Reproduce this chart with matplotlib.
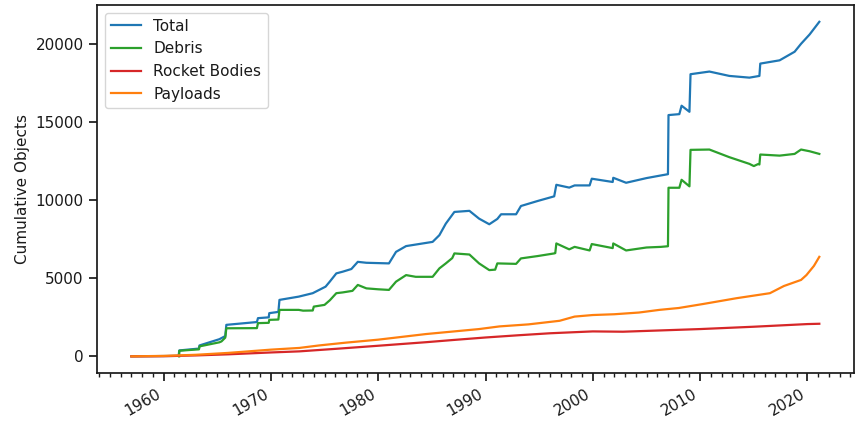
from datetime import datetime, timedelta

import matplotlib
matplotlib.use('Agg')
import matplotlib.pyplot as plt
import matplotlib.dates as mdates

# decimal years
total_years = [1957.0, 1961.4, 1961.47, 1963.3, 1963.35, 1965.2, 1965.75, 1965.85, 1968.7, 1968.8,
               1969.8, 1969.85, 1970.7, 1970.8, 1972.6, 1973.9, 1975.1, 1975.5, 1976.1, 1976.7,
               1977.5, 1978.1, 1978.9, 1981.0, 1981.66, 1982.6, 1985.07, 1985.7, 1986.3, 1987.1,
               1988.5, 1989.4, 1990.35, 1991.1, 1991.45, 1992.85, 1993.3, 1994.85, 1996.4, 1996.6,
               1997.8, 1998.3, 1999.7, 1999.9, 2001.85, 2001.9, 2003.1, 2005.0, 2006.35, 2007.0,
               2007.05, 2008.06, 2008.27, 2009.0, 2009.1, 2010.86, 2012.72, 2014.59, 2015.52, 2015.6,
               2017.4, 2018.8, 2019.4, 2020.2, 2021.1]
total_vals = [0, 30, 380, 500, 700, 1100, 1300, 2020, 2200, 2450,
              2500, 2770, 2850, 3620, 3830, 4050, 4470, 4800, 5320, 5430,
              5600, 6060, 6000, 5960, 6700, 7070, 7340, 7770, 8510, 9260,
              9330, 8830, 8470, 8810, 9110, 9110, 9640, 9960, 10260, 11000,
              10820, 10960, 10960, 11390, 11180, 11450, 11130, 11430, 11600, 11680,
              15470, 15530, 16070, 15680, 18090, 18260, 17980, 17870, 17980, 18770,
              18980, 19530, 20040, 20640, 21450]

debris_years = [1961.45, 1961.47, 1963.3, 1963.35, 1965.2, 1965.4, 1965.75, 1965.85, 1968.7, 1968.8,
                1969.8, 1969.85, 1970.7, 1970.8, 1972.6, 1973.0, 1973.9, 1974.0, 1975.0, 1975.5,
                1976.1, 1976.7, 1977.6, 1978.1, 1978.9, 1980.0, 1981.0, 1981.66, 1982.6, 1983.5,
                1985.07, 1985.7, 1986.3, 1986.9, 1987.1, 1988.5, 1989.4, 1990.35, 1990.9, 1991.1,
                1992.85, 1993.3, 1994.85, 1996.4, 1996.5, 1996.6, 1997.8, 1998.3, 1999.7, 1999.9,
                2001.85, 2001.9, 2003.1, 2005.0, 2006.35, 2007.0, 2007.05, 2008.06, 2008.27, 2009.0,
                2009.1, 2010.86, 2012.72, 2014.59, 2015.0, 2015.4, 2015.52, 2015.6, 2017.4, 2018.8,
                2019.4, 2020.2, 2021.1]
debris_vals = [0, 360, 450, 640, 900, 960, 1200, 1800, 1810, 2130,
               2150, 2340, 2360, 2980, 2980, 2930, 2940, 3190, 3300, 3600,
               4050, 4100, 4200, 4580, 4360, 4300, 4260, 4790, 5210, 5100,
               5100, 5640, 5960, 6300, 6600, 6530, 5960, 5530, 5560, 5960,
               5930, 6280, 6430, 6600, 6620, 7240, 6860, 7020, 6790, 7200,
               6940, 7240, 6790, 6980, 7020, 7060, 10810, 10810, 11320, 10900,
               13240, 13260, 12770, 12340, 12200, 12330, 12300, 12940, 12870, 12980,
               13260, 13150, 12980]

rocket_years = [1957.0, 1960, 1963, 1966, 1970, 1972.65, 1976, 1980, 1984.5, 1987, 1990, 1993,
                1996, 1998.3, 2000, 2002.8, 2006.2, 2010, 2015, 2020, 2021.1]
rocket_vals = [0, 10, 60, 130, 250, 320, 480, 680, 910, 1050, 1210, 1350,
               1480, 1550, 1600, 1580, 1660, 1750, 1900, 2070, 2090]

payload_years = [1957.0, 1960, 1963, 1966, 1970, 1972.65, 1974.5, 1977, 1980, 1984.45, 1989.4, 1991.3,
                 1994, 1996.9, 1998.3, 2000, 2002, 2004.3, 2006.2, 2008, 2010.3, 2013.4, 2016.5,
                 2017.8, 2019.4, 2019.9, 2020.6, 2021.1]
payload_vals = [0, 30, 100, 220, 430, 540, 700, 880, 1070, 1430, 1750, 1920,
                2050, 2280, 2550, 2650, 2700, 2810, 2980, 3100, 3360, 3730, 4050,
                4510, 4900, 5210, 5800, 6380]


def to_dates(years):
    return [datetime(int(y), 1, 1) + timedelta(days=(y % 1) * 365.25) for y in years]


plt.rcParams.update({
    'font.size': 11,
    'axes.linewidth': 1.25,
    'xtick.major.size': 6,
    'ytick.major.size': 6,
    'xtick.minor.size': 3,
    'xtick.major.width': 1.25,
    'ytick.major.width': 1.25,
    'xtick.minor.width': 1,
    'text.color': '.1',
    'xtick.color': '.1',
    'ytick.color': '.1',
    'axes.labelcolor': '.1',
    'axes.edgecolor': '.1',
})

fig, ax = plt.subplots(figsize=(8.58, 4.23), dpi=100)
ax.plot(to_dates(total_years), total_vals, color='tab:blue', lw=1.6, label='Total')
ax.plot(to_dates(debris_years), debris_vals, color='tab:green', lw=1.6, label='Debris')
ax.plot(to_dates(rocket_years), rocket_vals, color='tab:red', lw=1.6, label='Rocket Bodies')
ax.plot(to_dates(payload_years), payload_vals, color='tab:orange', lw=1.6, label='Payloads')

ax.xaxis.set_major_locator(mdates.YearLocator(10))
ax.xaxis.set_minor_locator(mdates.YearLocator(1))
ax.xaxis.set_major_formatter(mdates.DateFormatter('%Y'))
ax.set_ylabel('Cumulative Objects')
ax.legend(loc='upper left')
fig.autofmt_xdate()
fig.subplots_adjust(left=0.113, right=0.995, top=0.988, bottom=0.118)

fig.savefig('out.png', dpi=100)
